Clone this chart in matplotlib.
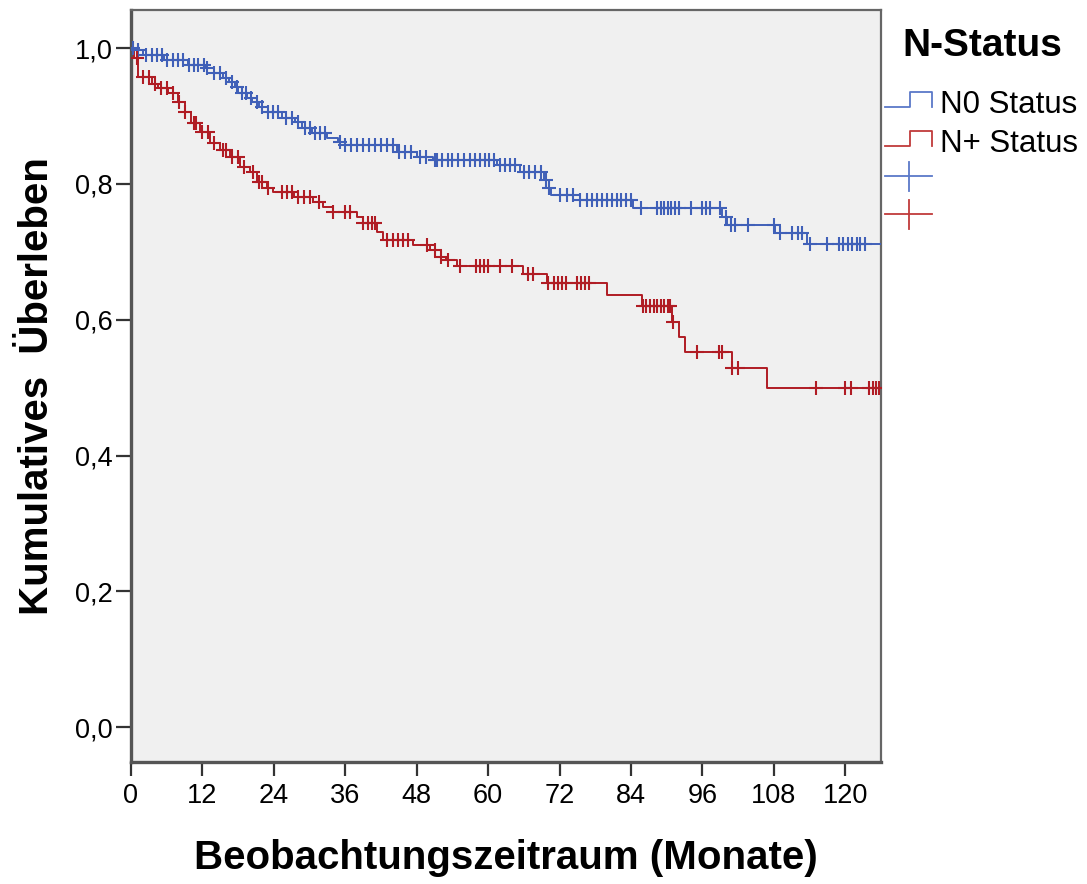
import numpy as np
import matplotlib
matplotlib.use("Agg")
import matplotlib.pyplot as plt
from matplotlib.lines import Line2D

plt.rcParams['font.family'] = ['Liberation Sans', 'DejaVu Sans']

# ---- data ----
group_labels = ["N0 Status", "N+ Status"]
legend_title = "N-Status"

n0_times = [0, 0.5, 2.0, 5.5, 9.5, 12.5, 14.0, 15.5, 16.5, 17.5, 18.0, 19.5, 20.3, 21.5, 23.0,
            25.4, 27.6, 28.7, 30.4, 33.0, 34.8, 36.0, 44.7, 48.0, 50.8, 61.5, 65.4, 69.3,
            69.8, 70.5, 75.5, 84.4, 99.3, 100.2, 108.2, 113.6, 126.0]
n0_surv = [1.0, 0.997, 0.990, 0.982, 0.975, 0.970, 0.963, 0.956, 0.950, 0.942, 0.934, 0.927,
           0.920, 0.913, 0.906, 0.897, 0.891, 0.882, 0.875, 0.867, 0.862, 0.857, 0.847, 0.840,
           0.835, 0.828, 0.818, 0.806, 0.794, 0.783, 0.776, 0.764, 0.751, 0.739, 0.727, 0.711,
           0.711]
n0_censor = [0.3, 1.2, 2.6, 3.5, 4.4, 5.2, 6.1, 7.0, 7.9, 8.8, 9.7, 10.5, 11.3, 12.2, 12.8, 14.0,
             15.0, 16.0, 17.0, 17.8, 18.6, 19.4, 20.2, 21.2, 22.0, 23.0, 23.8, 24.7, 26.0, 27.0,
             28.0, 29.2, 30.0, 30.9, 31.8, 32.6, 35.1, 36.0, 37.0, 38.0, 39.0, 40.0, 41.0, 42.0,
             43.0, 44.0, 45.0, 46.0, 47.0, 48.5, 49.5, 51.0, 51.4, 52.3, 53.2, 54.0, 55.0, 56.0,
             57.0, 57.8, 58.6, 59.4, 60.2, 61.0, 62.0, 62.9, 63.7, 64.5, 66.0, 66.9, 67.9, 68.8,
             69.7, 70.2, 72.0, 73.2, 74.3, 75.5, 76.6, 77.4, 78.3, 79.1, 80.0, 80.8, 81.6, 82.4,
             83.2, 84.0, 85.6, 88.4, 89.0, 89.6, 90.2, 90.8, 91.4, 92.0, 94.0, 96.0, 96.6, 97.3,
             99.0, 100.0, 100.8, 101.5, 103.7, 108.0, 109.0, 111.0, 112.0, 112.8, 114.0, 117.0,
             119.0, 119.7, 120.4, 121.1, 121.9, 122.5, 123.3]

np_times = [0, 0.5, 1.2, 3.5, 4.5, 6.2, 7.9, 9.0, 10.0, 11.6, 13.3, 15.0, 16.6, 18.3, 20.0,
            21.2, 22.8, 23.9, 27.3, 30.6, 32.3, 34.0, 38.0, 39.0, 41.3, 42.4, 47.4, 50.3,
            52.0, 53.0, 54.8, 65.9, 69.9, 80.0, 85.9, 90.9, 92.0, 93.1, 101.0, 106.9, 126.0]
np_surv = [1.0, 0.985, 0.957, 0.947, 0.941, 0.934, 0.920, 0.906, 0.890, 0.876, 0.860, 0.850,
           0.840, 0.825, 0.817, 0.803, 0.794, 0.788, 0.781, 0.773, 0.766, 0.758, 0.751, 0.742,
           0.729, 0.717, 0.710, 0.703, 0.693, 0.688, 0.679, 0.667, 0.654, 0.636, 0.620, 0.597,
           0.575, 0.553, 0.529, 0.500, 0.500]
np_censor = [1.0, 2.0, 3.0, 4.0, 5.0, 6.0, 7.0, 8.0, 9.0, 10.5, 11.0, 12.0, 13.0, 14.0, 15.5,
             16.0, 17.0, 18.0, 19.0, 20.5, 21.5, 22.0, 23.0, 25.3, 26.2, 27.0, 28.0, 29.0, 30.0,
             31.6, 34.0, 36.0, 36.8, 39.0, 39.8, 40.5, 41.0, 43.0, 44.0, 44.8, 45.7, 46.5, 49.7,
             51.0, 52.0, 53.3, 55.3, 58.0, 58.7, 59.3, 60.0, 62.0, 64.0, 66.7, 67.6, 70.0, 71.0,
             71.8, 72.4, 73.0, 75.0, 75.6, 76.3, 77.0, 86.0, 86.6, 87.2, 87.8, 88.4, 89.0, 89.6,
             90.2, 90.6, 91.0, 95.1, 98.7, 99.3, 101.0, 101.9, 115.0, 120.0, 121.0, 124.0, 124.6,
             125.1, 125.6]

x_ticks = [0, 12, 24, 36, 48, 60, 72, 84, 96, 108, 120]
y_ticks = [0.0, 0.2, 0.4, 0.6, 0.8, 1.0]
y_ticklabels = ["0,0", "0,2", "0,4", "0,6", "0,8", "1,0"]

blue = "#4060B8"
red = "#B01C24"
leg_blue = "#5A78C8"
leg_red = "#C03A3A"

fig = plt.figure(figsize=(10.87, 8.84), dpi=100)
ax = fig.add_axes([131/1087, 1-762/884, (881-131)/1087, (762-10)/884])
ax.set_facecolor("#F0F0F0")


def surv_at(times, surv, t):
    idx = np.searchsorted(np.asarray(times), t, side='right') - 1
    return np.asarray(surv)[idx]


for times, surv, cens, col in [(n0_times, n0_surv, n0_censor, blue),
                               (np_times, np_surv, np_censor, red)]:
    ax.step(times, surv, where='post', color=col, lw=1.4, zorder=3)
    cy = [surv_at(times, surv, t) for t in cens]
    ax.plot(cens, cy, ls='none', marker='+', ms=10, mew=1.5, color=col, zorder=4)

ax.set_xlim(0, 126)
ax.set_ylim(-0.051, 1.056)
ax.set_xticks(x_ticks)
ax.set_xticklabels([str(t) for t in x_ticks], fontsize=19.5)
ax.set_yticks(y_ticks)
ax.set_yticklabels(y_ticklabels, fontsize=19.5)
ax.tick_params(axis='x', direction='out', length=10, width=1.6, color='#333333', pad=5)
ax.tick_params(axis='y', direction='out', length=11, width=1.6, color='#333333', pad=2)
for sp in ax.spines.values():
    sp.set_color('#666666')
    sp.set_linewidth(1.6)
ax.spines['left'].set_color('#555555')
ax.spines['left'].set_linewidth(2.4)
ax.spines['bottom'].set_color('#555555')
ax.spines['bottom'].set_linewidth(2.4)

ax.set_xlabel("Beobachtungszeitraum (Monate)", fontsize=29, fontweight='bold', labelpad=22)
ax.set_ylabel("Kumulatives  Überleben", fontsize=29, fontweight='bold', labelpad=14)

# ---- legend drawn in a pixel-coordinate panel ----
lg = fig.add_axes([881/1087, 1-240/884, (1087-881)/1087, (240-10)/884])
lg.set_xlim(881, 1087)
lg.set_ylim(240, 10)
lg.axis('off')
lg.text(982, 46, legend_title, fontsize=28, fontweight='bold', ha='center', va='center')
for (yl, col, lab) in [(107, leg_blue, group_labels[0]), (146, leg_red, group_labels[1])]:
    lg.add_line(Line2D([885, 910, 910, 932, 932], [yl, yl, yl-15, yl-15, yl],
                       color=col, lw=1.3))
    lg.text(940, yl-2, lab, fontsize=22.5, ha='left', va='center')
for (yc, col) in [(176, leg_blue), (214, leg_red)]:
    lg.add_line(Line2D([885, 932], [yc, yc], color=col, lw=1.3))
    lg.add_line(Line2D([909, 909], [yc-14, yc+15], color=col, lw=1.3))

fig.savefig("out.png", dpi=100, facecolor='white')
